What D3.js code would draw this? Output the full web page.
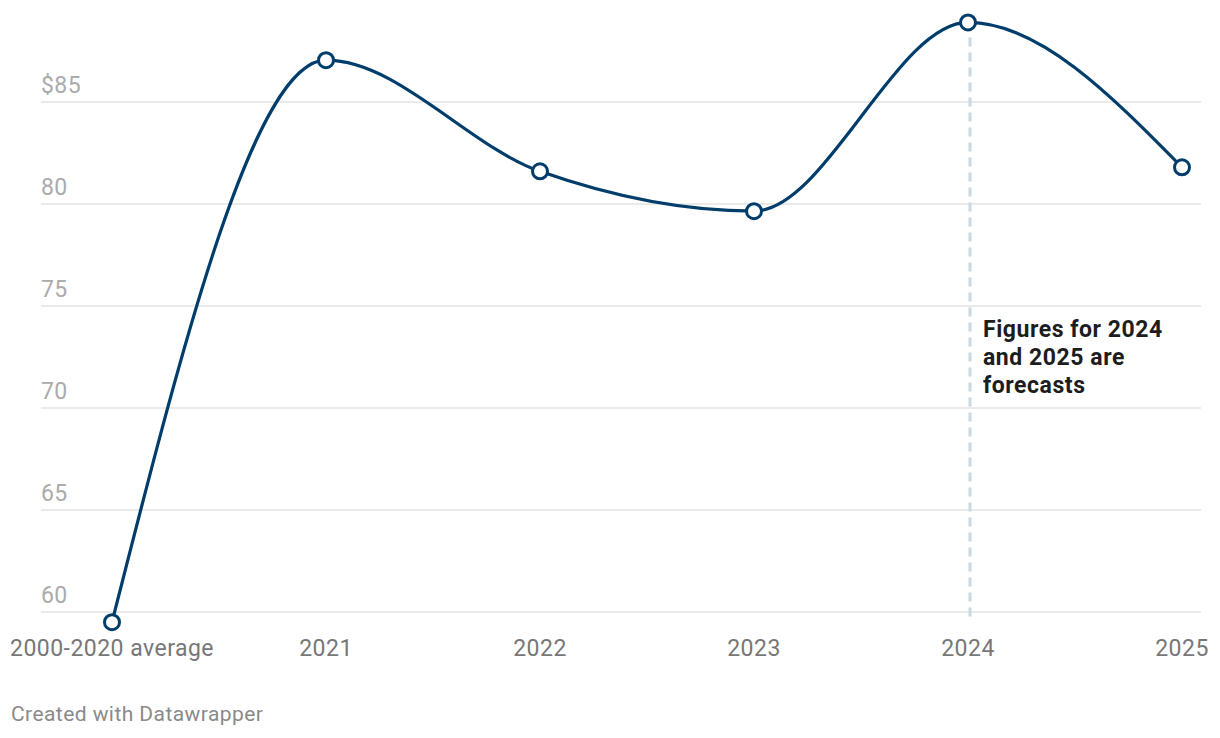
<!DOCTYPE html>
<html>
<head>
<meta charset="utf-8">
<script src="https://cdn.jsdelivr.net/npm/d3@7"></script>
<style>
  html, body { margin: 0; padding: 0; background: #fff; }
  svg { display: block; font-family: Roboto, "Noto Sans", sans-serif; }
</style>
</head>
<body>
<svg id="chart" width="1220" height="738"></svg>
<script>
const categories = ["2000-2020 average", "2021", "2022", "2023", "2024", "2025"];
const values = [59.5, 87.05, 81.6, 79.65, 88.9, 81.8];
const yTicks = [60, 65, 70, 75, 80, 85];
const yTickLabels = ["60", "65", "70", "75", "80", "$85"];
const forecastStart = "2024";
const annotationLines = ["Figures for 2024", "and 2025 are", "forecasts"];
const footer = "Created with Datawrapper";

const svg = d3.select("#chart");

const x = d3.scalePoint().domain(categories).range([112, 1182]);
const y = d3.scaleLinear().domain([60, 85]).range([612, 102]);

// gridlines
svg.append("g").selectAll("line").data(yTicks).join("line")
  .attr("x1", 41).attr("x2", 1201)
  .attr("y1", d => y(d)).attr("y2", d => y(d))
  .attr("stroke", "#e3e3e3").attr("stroke-width", 1.5);

// y labels
svg.append("g").selectAll("text").data(yTicks).join("text")
  .attr("x", 41).attr("y", d => y(d) - 9)
  .attr("fill", "#ababab").attr("font-size", 23)
  .attr("letter-spacing", 0.4)
  .text((d, i) => yTickLabels[i]);

// x labels
svg.append("g").selectAll("text").data(categories).join("text")
  .attr("x", d => x(d)).attr("y", 656)
  .attr("text-anchor", "middle")
  .attr("fill", "#777").attr("font-size", 23)
  .attr("letter-spacing", 0.47)
  .text(d => d);

// forecast dashed line
svg.append("line")
  .attr("x1", x(forecastStart) + 2).attr("x2", x(forecastStart) + 2)
  .attr("y1", y(values[4])).attr("y2", 622)
  .attr("stroke", "#cad8e2").attr("stroke-width", 3)
  .attr("stroke-dasharray", "9,6");

// annotation
const ann = svg.append("text")
  .attr("x", 983).attr("y", 336.5)
  .attr("fill", "#1d1d1d").attr("font-size", 23).attr("font-weight", "bold")
  .attr("letter-spacing", 0.55);
annotationLines.forEach((l, i) => {
  ann.append("tspan").attr("x", 983).attr("dy", i === 0 ? 0 : 28.3).text(l);
});

// line
const line = d3.line()
  .x((d, i) => x(categories[i]))
  .y(d => y(d))
  .curve(d3.curveMonotoneX);

svg.append("path")
  .datum(values)
  .attr("d", line)
  .attr("fill", "none")
  .attr("stroke", "#003d6b")
  .attr("stroke-width", 3.2);

// markers
svg.append("g").selectAll("circle").data(values).join("circle")
  .attr("cx", (d, i) => x(categories[i]))
  .attr("cy", d => y(d))
  .attr("r", 7.5)
  .attr("fill", "#fff")
  .attr("stroke", "#003d6b")
  .attr("stroke-width", 3);

// footer
svg.append("text")
  .attr("x", 11).attr("y", 721)
  .attr("fill", "#8a8a8a").attr("font-size", 21)
  .attr("letter-spacing", 0.43)
  .text(footer);
</script>
</body>
</html>
